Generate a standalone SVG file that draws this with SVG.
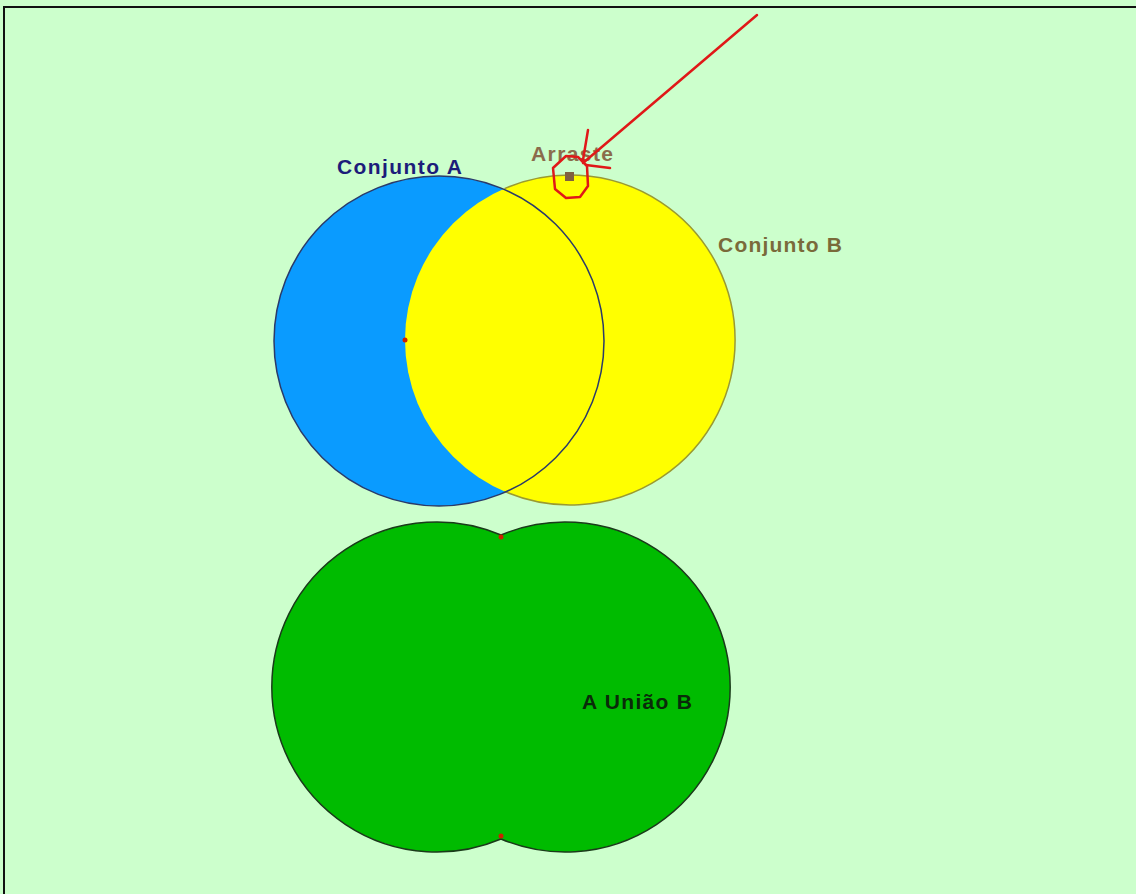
<svg xmlns="http://www.w3.org/2000/svg" width="1136" height="894" viewBox="0 0 1136 894">
<style>
.lbl{font-family:"Liberation Sans",Arial,sans-serif;font-weight:bold;font-size:21px}
.red{fill:none;stroke:#e01818;stroke-width:2.5;stroke-linecap:round;stroke-linejoin:round}
.pt{fill:#cc2200}
</style>
<rect x="0" y="0" width="1136" height="894" fill="#ccffcc"/>
<path d="M4 894 V7 H1136" fill="none" stroke="#111" stroke-width="2"/>
<g id="conjuntoA">
<circle cx="439" cy="341" r="165" fill="#0a9bff"/>
</g>
<g id="conjuntoB">
<circle cx="570" cy="340" r="165" fill="#ffff00"/>
<path d="M504.5 188.6 A165 165 0 1 1 504.5 491.4" fill="none" stroke="#9a9a30" stroke-width="1.5"/>
</g>
<g id="conjuntoA-outline">
<circle cx="439" cy="341" r="165" fill="none" stroke="#2a3a6a" stroke-width="1.5"/>
<text class="lbl" x="337" y="174" fill="#1c1c7a" textLength="125" lengthAdjust="spacing">Conjunto A</text>
</g>
<g id="labelB">
<text class="lbl" x="718" y="252" fill="#7a6a3a" textLength="124" lengthAdjust="spacing">Conjunto B</text>
</g>
<circle class="pt" cx="405" cy="340" r="2.5"/>
<g id="uniao">
<path d="M501 535 A165 165 0 1 0 501 839 A165 165 0 1 0 501 535 Z" fill="#00bb00" stroke="#1a3a1a" stroke-width="1.5"/>
<circle class="pt" cx="501" cy="537" r="2.5"/>
<circle class="pt" cx="501" cy="836" r="2.5"/>
<text class="lbl" x="582" y="709" fill="#0a2a0a" textLength="110" lengthAdjust="spacing">A União B</text>
</g>
<g id="arraste">
<text class="lbl" x="531" y="161" fill="#8b6b4b" textLength="82" lengthAdjust="spacing">Arraste</text>
<rect x="565" y="172" width="9" height="9" fill="#806040"/>
</g>
<g id="connectors">
<path class="red" d="M757 15 L583 163"/>
<path class="red" d="M588 130 L583 160"/>
<path class="red" d="M586 165 L610 168"/>
<path class="red" d="M566 156 L578 157 L587 166 L588 186 L580 197 L566 198 L555 189 L553 168 Z"/>
</g>
</svg>
